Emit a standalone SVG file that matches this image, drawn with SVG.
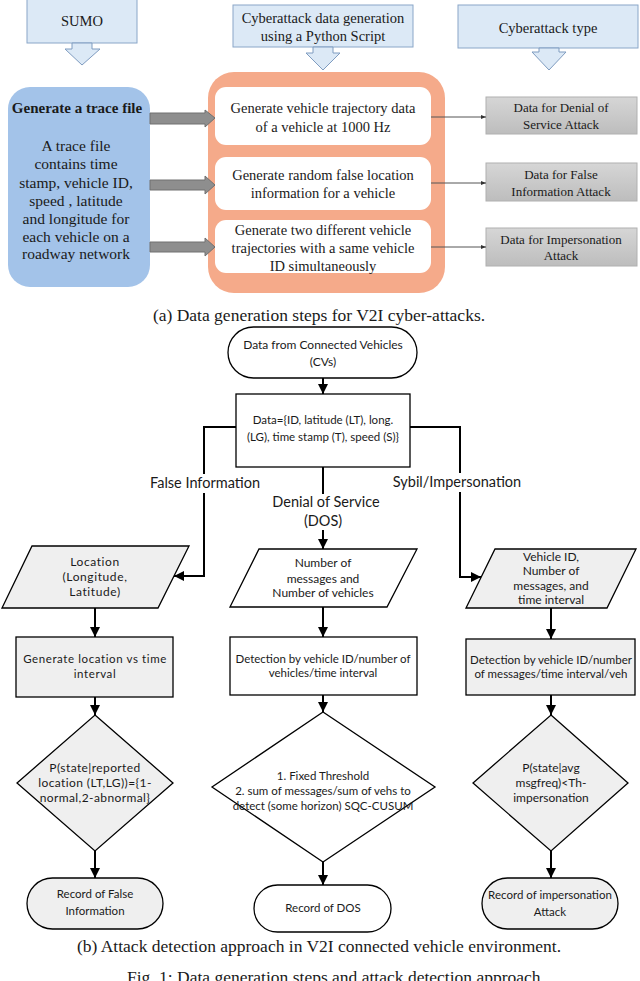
<svg xmlns="http://www.w3.org/2000/svg" width="640" height="981" viewBox="0 0 640 981">
<style>
.serif{font-family:"Liberation Serif","Times New Roman",serif;fill:#1a1a1a}
.sans{font-family:Lato,"Noto Sans",sans-serif;fill:#1a1a1a}
.hdr{fill:#dce9f6;stroke:#8aa6c8;stroke-width:1}
.harrow{fill:#dce9f6;stroke:#7f9cc0;stroke-width:1}
.garrow{fill:#8e8e8e;stroke:#707070;stroke-width:1}
.gbox{fill:url(#gg);stroke:#b0b0b0;stroke-width:1}
.wbox{fill:#ffffff;stroke:none}
.fc{stroke:#000;stroke-width:1.3}
.gray{fill:#efefef}
.white{fill:#ffffff}
.conn{fill:none;stroke:#000;stroke-width:2}
.thin{fill:none;stroke:#555;stroke-width:1}
</style>
<defs>
<linearGradient id="gg" x1="0" y1="0" x2="0" y2="1">
<stop offset="0" stop-color="#d6d6d6"/>
<stop offset="1" stop-color="#bdbdbd"/>
</linearGradient>
<marker id="ah" viewBox="0 0 10 10" refX="10" refY="5" markerWidth="5" markerHeight="5" orient="auto" markerUnits="strokeWidth">
<path d="M0,0 L10,5 L0,10 z" fill="#000"/>
</marker>
<marker id="ahs" viewBox="0 0 10 10" refX="10" refY="5" markerWidth="5" markerHeight="5" orient="auto" markerUnits="strokeWidth">
<path d="M0,1 L10,5 L0,9 z" fill="#333"/>
</marker>
</defs>
<rect width="640" height="981" fill="#fff"/>

<!-- Top part -->
<g id="sumo">
<rect class="hdr" x="27" y="-2" width="110" height="45"/>
<text class="serif" x="82" y="26" font-size="14.5" text-anchor="middle">SUMO</text>
<polygon class="harrow" points="72,43 92,43 92,49 100,49 82,65 65,49 72,49"/>
</g>
<g id="cyber-gen">
<rect class="hdr" x="233" y="5" width="180" height="42"/>
<text class="serif" x="323" y="23" font-size="14.5" text-anchor="middle">Cyberattack data generation</text>
<text class="serif" x="323" y="41" font-size="14.5" text-anchor="middle">using a Python Script</text>
<polygon class="harrow" points="313,47 333,47 333,53 340,53 323,70 306,53 313,53"/>
</g>
<g id="cyber-type">
<rect class="hdr" x="458" y="5" width="180" height="43"/>
<text class="serif" x="548" y="33" font-size="14.5" text-anchor="middle">Cyberattack type</text>
<polygon class="harrow" points="539,48 559,48 559,52 566,52 549,70 532,52 539,52"/>
</g>

<g id="trace">
<rect x="8" y="87" width="142" height="200" rx="22" fill="#a3c3e9"/>
<text class="serif" x="77" y="113" font-size="15" font-weight="bold" text-anchor="middle">Generate a trace file</text>
<g class="serif" font-size="15.5" text-anchor="middle">
<text x="76" y="151">A trace file</text>
<text x="76" y="169">contains time</text>
<text x="76" y="188">stamp, vehicle ID,</text>
<text x="76" y="206">speed , latitude</text>
<text x="76" y="224">and longitude for</text>
<text x="76" y="242">each vehicle on a</text>
<text x="76" y="259">roadway network</text>
</g>
</g>

<g id="pyscript">
<rect x="208" y="72" width="237" height="221" rx="26" fill="#f5aa8a"/>
<rect class="wbox" x="215" y="87" width="216" height="58" rx="11"/>
<rect class="wbox" x="215" y="157" width="216" height="53" rx="11"/>
<rect class="wbox" x="215" y="220" width="216" height="53" rx="11"/>
<g class="serif" font-size="14.5" text-anchor="middle">
<text x="323" y="113">Generate vehicle trajectory data</text>
<text x="323" y="132">of a vehicle at 1000 Hz</text>
<text x="323" y="180">Generate random false location</text>
<text x="323" y="198">information for a vehicle</text>
<text x="323" y="235">Generate two different vehicle</text>
<text x="323" y="253">trajectories with a same vehicle</text>
<text x="323" y="271">ID simultaneously</text>
</g>
</g>

<g id="dos-data">
<rect class="gbox" x="486" y="97" width="151" height="37"/>
<text class="serif" x="561" y="112" font-size="13" text-anchor="middle">Data for Denial of</text>
<text class="serif" x="561" y="129" font-size="13" text-anchor="middle">Service Attack</text>
</g>
<g id="fi-data">
<rect class="gbox" x="486" y="163" width="151" height="38"/>
<text class="serif" x="561" y="179" font-size="13" text-anchor="middle">Data for False</text>
<text class="serif" x="561" y="196" font-size="13" text-anchor="middle">Information Attack</text>
</g>
<g id="imp-data">
<rect class="gbox" x="486" y="228" width="151" height="38"/>
<text class="serif" x="561" y="244" font-size="13" text-anchor="middle">Data for Impersonation</text>
<text class="serif" x="561" y="260" font-size="13" text-anchor="middle">Attack</text>
</g>

<g id="top-connectors">
<polygon class="garrow" points="150,113 205,113 205,110 215,118 205,127 205,124 150,124"/>
<polygon class="garrow" points="150,180 205,180 205,176 215,185 205,194 205,190 150,190"/>
<polygon class="garrow" points="150,242 205,242 205,238 215,247 205,256 205,252 150,252"/>
<line class="thin" x1="431" y1="117" x2="486" y2="117" marker-end="url(#ahs)"/>
<line class="thin" x1="431" y1="183" x2="486" y2="183" marker-end="url(#ahs)"/>
<line class="thin" x1="431" y1="247" x2="486" y2="247" marker-end="url(#ahs)"/>
</g>

<text class="serif" x="319" y="321" font-size="17.5" text-anchor="middle">(a) Data generation steps for V2I cyber-attacks.</text>

<!-- Flowchart -->
<g id="cv-data">
<rect class="fc white" x="228" y="327" width="189" height="51" rx="25.5"/>
<text class="sans" x="323" y="349" font-size="12" text-anchor="middle">Data from Connected Vehicles</text>
<text class="sans" x="323" y="366" font-size="12" text-anchor="middle">(CVs)</text>
</g>
<g id="data-set">
<rect class="fc white" x="236" y="394" width="174" height="73"/>
<text class="sans" x="323" y="424" font-size="11.5" text-anchor="middle">Data={ID, latitude (LT), long.</text>
<text class="sans" x="323" y="441" font-size="11.5" text-anchor="middle">(LG), time stamp (T), speed (S)}</text>
</g>

<g id="location">
<polygon class="fc gray" points="32,546 189,546 158,608 2,608"/>
<g class="sans" font-size="12" text-anchor="middle" letter-spacing="0.6">
<text x="95" y="566">Location</text>
<text x="95" y="581">(Longitude,</text>
<text x="95" y="596">Latitude)</text>
</g>
</g>
<g id="num-msgs">
<polygon class="fc white" points="259,549 417,549 387,607 230,607"/>
<g class="sans" font-size="12" text-anchor="middle">
<text x="323" y="567">Number of</text>
<text x="323" y="583">messages and</text>
<text x="323" y="597">Number of vehicles</text>
</g>
</g>
<g id="veh-id">
<polygon class="fc gray" points="495,549 636,549 607,608 466,608"/>
<g class="sans" font-size="12" text-anchor="middle">
<text x="551" y="561">Vehicle ID,</text>
<text x="551" y="575">Number of</text>
<text x="551" y="590">messages, and</text>
<text x="551" y="604">time interval</text>
</g>
</g>

<g id="gen-loc">
<rect class="fc gray" x="16" y="637" width="157" height="60"/>
<text class="sans" x="95" y="663" font-size="11.5" text-anchor="middle" letter-spacing="0.6">Generate location vs time</text>
<text class="sans" x="95" y="678" font-size="11.5" text-anchor="middle" letter-spacing="0.6">interval</text>
</g>
<g id="det-dos">
<rect class="fc white" x="230" y="637" width="187" height="58"/>
<text class="sans" x="323" y="663" font-size="11.5" text-anchor="middle">Detection by vehicle ID/number of</text>
<text class="sans" x="323" y="677" font-size="11.5" text-anchor="middle">vehicles/time interval</text>
</g>
<g id="det-imp">
<rect class="fc gray" x="466" y="639" width="169" height="56"/>
<text class="sans" x="551" y="664" font-size="11.5" text-anchor="middle">Detection by vehicle ID/number</text>
<text class="sans" x="551" y="678" font-size="11.5" text-anchor="middle">of messages/time interval/veh</text>
</g>

<g id="dec-loc">
<polygon class="fc gray" points="95,715 173,783 95,851 17,783"/>
<g class="sans" font-size="12" text-anchor="middle" letter-spacing="0.4">
<text x="95" y="772">P(state|reported</text>
<text x="95" y="787">location (LT,LG))={1-</text>
<text x="95" y="802">normal,2-abnormal}</text>
</g>
</g>
<g id="dec-dos">
<polygon class="fc white" points="323,712 435,787 323,862 212,787"/>
<g class="sans" font-size="11.5" text-anchor="middle">
<text x="323" y="780">1. Fixed Threshold</text>
<text x="323" y="795">2. sum of messages/sum of vehs to</text>
<text x="323" y="810">detect (some horizon) SQC-CUSUM</text>
</g>
</g>
<g id="dec-imp">
<polygon class="fc gray" points="551,715 628,783 551,851 473,783"/>
<g class="sans" font-size="12" text-anchor="middle">
<text x="551" y="772">P(state|avg</text>
<text x="551" y="787">msgfreq)&lt;Th-</text>
<text x="551" y="802">impersonation</text>
</g>
</g>

<g id="rec-fi">
<rect class="fc gray" x="27" y="878" width="136" height="51" rx="25.5"/>
<text class="sans" x="95" y="898" font-size="11.5" text-anchor="middle">Record of False</text>
<text class="sans" x="95" y="915" font-size="11.5" text-anchor="middle">Information</text>
</g>
<g id="rec-dos">
<rect class="fc white" x="254" y="885" width="137" height="47" rx="23.5"/>
<text class="sans" x="323" y="912" font-size="11.5" text-anchor="middle">Record of DOS</text>
</g>
<g id="rec-imp">
<rect class="fc gray" x="482" y="878" width="136" height="51" rx="25.5"/>
<text class="sans" x="550" y="899" font-size="11.5" text-anchor="middle">Record of impersonation</text>
<text class="sans" x="550" y="916" font-size="11.5" text-anchor="middle">Attack</text>
</g>

<g id="connectors">
<line class="conn" x1="323" y1="378" x2="323" y2="394" marker-end="url(#ah)"/>
<path class="conn" d="M236,427 H204 V576 H174" marker-end="url(#ah)"/>
<path class="conn" d="M410,427 H460 V577 H481" marker-end="url(#ah)"/>
<line class="conn" x1="323" y1="467" x2="323" y2="549" marker-end="url(#ah)"/>
<line class="conn" x1="95" y1="608" x2="95" y2="637" marker-end="url(#ah)"/>
<line class="conn" x1="323" y1="607" x2="323" y2="637" marker-end="url(#ah)"/>
<line class="conn" x1="551" y1="608" x2="551" y2="639" marker-end="url(#ah)"/>
<line class="conn" x1="95" y1="697" x2="95" y2="715" marker-end="url(#ah)"/>
<line class="conn" x1="323" y1="695" x2="323" y2="712" marker-end="url(#ah)"/>
<line class="conn" x1="551" y1="695" x2="551" y2="715" marker-end="url(#ah)"/>
<line class="conn" x1="95" y1="851" x2="95" y2="878" marker-end="url(#ah)"/>
<line class="conn" x1="323" y1="862" x2="323" y2="885" marker-end="url(#ah)"/>
<line class="conn" x1="551" y1="851" x2="551" y2="878" marker-end="url(#ah)"/>
</g>

<g id="labels">
<rect x="146" y="474" width="118" height="19" fill="#fff"/>
<text class="sans" x="205" y="488" font-size="14.5" text-anchor="middle">False Information</text>
<rect x="270" y="494" width="112" height="36" fill="#fff"/>
<text class="sans" x="326" y="507" font-size="14.5" text-anchor="middle">Denial of Service</text>
<text class="sans" x="323" y="526" font-size="14.5" text-anchor="middle">(DOS)</text>
<rect x="388" y="473" width="139" height="19" fill="#fff"/>
<text class="sans" x="457" y="487" font-size="14.5" text-anchor="middle">Sybil/Impersonation</text>
</g>

<text class="serif" x="319" y="952" font-size="17.5" text-anchor="middle">(b) Attack detection approach in V2I connected vehicle environment.</text>
<text class="serif" x="127" y="983" font-size="17.5">Fig. 1: Data generation steps and attack detection approach</text>
</svg>
